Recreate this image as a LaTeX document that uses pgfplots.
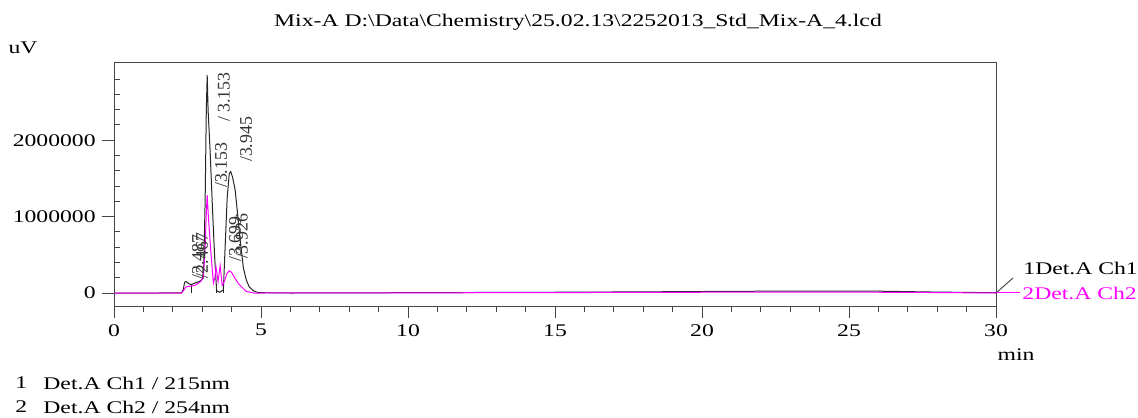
\documentclass[border=0pt]{standalone}
\usepackage{fontspec}
\setmainfont{Liberation Serif}[FakeStretch=1.33]
\newfontfamily\pkfont{Liberation Serif}
\usepackage{pgfplots}
\pgfplotsset{compat=1.18}
\definecolor{chtwo}{RGB}{255,0,255}
\definecolor{axgray}{RGB}{70,70,70}

\begin{document}
\fontsize{8.9}{10}\selectfont
\begin{tikzpicture}[font=\fontsize{8.9}{10}\selectfont]
\begin{axis}[scale only axis, width=441pt, height=121.5pt,
    at={(0,0)}, anchor=south west,
    xmin=0, xmax=30, ymin=-170000, ymax=3010000,
    xtick={0,5,10,15,20,25,30}, minor x tick num=4,
    ytick={0,1000000,2000000},
    minor ytick={200000,400000,600000,800000,1200000,1400000,1600000,1800000,2200000,2400000,2600000,2800000},
    scaled y ticks=false,
    yticklabel style={/pgf/number format/fixed,/pgf/number format/1000 sep={}},
    /pgf/number format/assume math mode=true,
    tick align=outside, tick pos=left,
    major tick length=6pt, minor tick length=3pt,
    minor y tick style={xshift=3pt},
    axis line style={axgray, line width=0.5pt},
    tick style={axgray, line width=0.5pt},
    every tick label/.append style={text=black},
]
% Ch1 215nm
\addplot[black!85, line width=0.5pt] coordinates {
 (0,0) (1.5,0) (2.3,0.003e6) (2.36,0.05e6) (2.4,0.14e6) (2.45,0.15e6) (2.55,0.12e6)
 (2.63,0.11e6) (2.75,0.13e6) (2.9,0.15e6) (3.0,0.18e6) (3.05,0.3e6) (3.1,1.2e6)
 (3.14,2.4e6) (3.17,2.85e6) (3.2,2.4e6) (3.27,1.85e6) (3.35,1.1e6) (3.42,0.5e6)
 (3.49,0.03e6) (3.6,0.01e6) (3.72,0.04e6) (3.78,0.6e6) (3.85,1.25e6) (3.92,1.56e6)
 (3.97,1.59e6) (4.03,1.52e6) (4.12,1.35e6) (4.2,1.05e6) (4.29,0.7e6) (4.4,0.33e6)
 (4.5,0.17e6) (4.6,0.08e6) (4.74,0.03e6) (4.9,0.005e6) (6,0) (10,0.004e6)
 (15,0.01e6) (18,0.015e6) (21,0.022e6) (24,0.026e6) (26,0.024e6) (28,0.012e6) (30,0.004e6)
};
% baseline marks
\addplot[black!85, line width=0.5pt] coordinates {(2.64,0) (2.64,0.11e6)};
\addplot[black!85, line width=0.5pt] coordinates {(3.49,0) (3.49,0.12e6)};
\addplot[black!85, line width=0.5pt] coordinates {(3.72,0) (3.72,0.12e6)};
% Ch2 254nm
\addplot[chtwo, line width=0.5pt] coordinates {
 (0,0) (2.3,0) (2.38,0.04e6) (2.45,0.08e6) (2.6,0.09e6) (2.76,0.1e6) (2.95,0.15e6)
 (3.04,0.21e6) (3.1,0.6e6) (3.14,1.05e6) (3.17,1.28e6) (3.21,1.0e6) (3.29,0.56e6)
 (3.38,0.13e6) (3.43,0.2e6) (3.47,0.34e6) (3.54,0.15e6) (3.61,0.36e6) (3.68,0.1e6)
 (3.75,0.15e6) (3.85,0.26e6) (3.92,0.29e6) (4.0,0.27e6) (4.12,0.19e6) (4.22,0.13e6)
 (4.34,0.08e6) (4.5,0.02e6) (4.77,0) (10,0.002e6) (18,0.008e6) (22,0.012e6)
 (25,0.012e6) (28,0.006e6) (30,0)
};
% peak labels
\tikzset{pk/.style={rotate=90, anchor=west, inner sep=0pt, text=black!80, font=\pkfont\fontsize{8.9}{10}\selectfont}}
\node[pk] at (axis cs:3.74,2235000) {/ 3.153};
\node[pk] at (axis cs:3.64,1370000) {/3.153};
\node[pk] at (axis cs:4.49,1710000) {/3.945};
\node[pk] at (axis cs:4.12,405000) {/3.699};
\node[pk] at (axis cs:4.35,440000) {/3.926};
\node[pk] at (axis cs:2.86,170000) {/2.487};
\node[pk] at (axis cs:3.0,190000) {/2.467};
\end{axis}
% texts around the axis
\node at (232pt,142pt) {Mix-A D:\textbackslash Data\textbackslash Chemistry\textbackslash 25.02.13\textbackslash 2252013\_Std\_Mix-A\_4.lcd};
\node at (-45.5pt,129pt) {uV};
\node at (451pt,-24.5pt) {min};
\node[anchor=west, inner sep=0pt] at (-49.5pt,-38.5pt) {1};
\node[anchor=west, inner sep=0pt] at (-35.5pt,-38.5pt) {Det.A Ch1 / 215nm};
\node[anchor=west, inner sep=0pt] at (-49.5pt,-50.5pt) {2};
\node[anchor=west, inner sep=0pt] at (-35.5pt,-50.5pt) {Det.A Ch2 / 254nm};
\draw[black!70, line width=0.5pt] (441pt,6.5pt) -- (449.5pt,14pt);
\draw[chtwo, line width=0.5pt] (441pt,6.5pt) -- (453pt,6.5pt);
\node[anchor=west, inner sep=0pt] at (454.5pt,19pt) {1Det.A Ch1};
\node[anchor=west, inner sep=0pt, text=chtwo] at (454pt,6.5pt) {2Det.A Ch2};
\pgfresetboundingbox
\path[use as bounding box] (-57pt,-55.5pt) rectangle (512pt,153pt);
\end{tikzpicture}
\end{document}
